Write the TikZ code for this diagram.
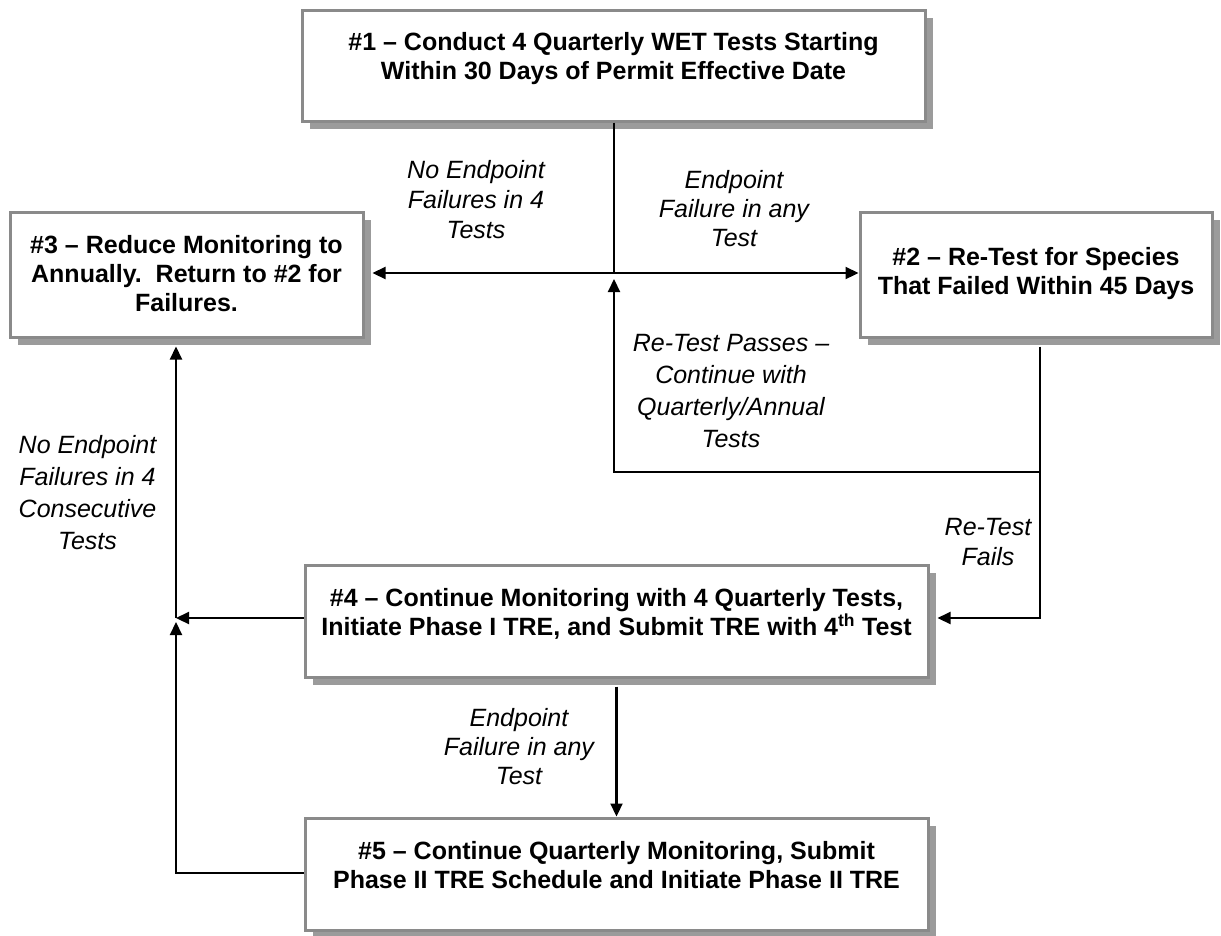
\documentclass[tikz,border=0pt]{standalone}
\usepackage{fontspec}
\setmainfont{Liberation Sans}
\usetikzlibrary{arrows.meta,shadows}
\definecolor{bordergray}{RGB}{138,138,138}
\definecolor{shadowgray}{RGB}{155,155,155}
\begin{document}
\begin{tikzpicture}[x=1pt,y=-1pt,
  box/.style={draw=bordergray, line width=3pt, fill=white, rectangle, inner sep=0pt,
    drop shadow={shadow xshift=8pt, shadow yshift=-8pt, fill=shadowgray, opacity=1}},
  boxtext/.style={align=center, font=\fontsize{25}{29}\selectfont\bfseries, inner sep=0pt},
  lbl/.style={align=center, font=\fontsize{25}{30}\selectfont\itshape, inner sep=0pt},
  conn/.style={line width=2.2pt, draw=black},
  arr/.style={conn, -{Triangle[length=13pt,width=12pt]}}]
\useasboundingbox (0,0) rectangle (1221,935);
\fill[white] (0,0) rectangle (1221,935);

% boxes
\node[box, minimum width=623pt, minimum height=111pt] (b1) at (613.5,65.5) {};
\node[box, minimum width=353pt, minimum height=125pt] (b3) at (186.5,274.5) {};
\node[box, minimum width=352pt, minimum height=125pt] (b2) at (1036,274.5) {};
\node[box, minimum width=623pt, minimum height=112pt] (b4) at (616.5,621) {};
\node[box, minimum width=623pt, minimum height=112pt] (b5) at (616.5,874) {};

% box texts
\node[boxtext] (t1) at (613.5,58.5) {\#1 -- Conduct 4 Quarterly WET Tests Starting\\Within 30 Days of Permit Effective Date};
\node[boxtext] (t3) at (186.5,274) {\#3 -- Reduce Monitoring to\\Annually.\ \ Return to \#2 for\\Failures.};
\node[boxtext] (t2) at (1036,274) {\#2 -- Re-Test for Species\\That Failed Within 45 Days};
\node[boxtext] (t4) at (616.5,613.5) {\#4 -- Continue Monitoring with 4 Quarterly Tests,\\Initiate Phase I TRE, and Submit TRE with 4\textsuperscript{th} Test};
\node[boxtext] (t5) at (616.5,865.5) {\#5 -- Continue Quarterly Monitoring, Submit\\Phase II TRE Schedule and Initiate Phase II TRE};

% junctions
\coordinate (j1) at (614,273);
\coordinate (j2) at (1040,472);
\coordinate (j3) at (1040,618);
\coordinate (j4) at (176,618);
\coordinate (j5) at (176,873);

% connectors
\draw[conn] (b1.south -| j1) -- (j1);
\draw[arr] (j1) -- ([xshift=8pt]b3.east |- j1);
\draw[arr] (j1) -- (b2.west |- j1);
\draw[conn] ([yshift=-8pt]b2.south -| j2) -- (j2);
\draw[arr] (j2) -- (j2 -| j1) -- ([yshift=-6pt]j1);
\draw[arr] (j2) -- (j3) -- ([xshift=8pt]b4.east |- j3);
\draw[arr] (b4.west |- j4) -- (j4);
\draw[arr] (j4) -- ([yshift=-8pt]b3.south -| j4);
\draw[arr] (b5.west |- j5) -- (j5) -- ([yshift=-4pt]j4);
\draw[arr] ([yshift=-8pt]b4.south) -- (b5.north);

% labels
\node[lbl] (l1) at (476,200) {No Endpoint\\Failures in 4\\Tests};
\node[lbl, font=\fontsize{25}{29}\selectfont\itshape] (l2) at (734,209) {Endpoint\\Failure in any\\Test};
\node[lbl, font=\fontsize{25}{32}\selectfont\itshape] (l3) at (731,391) {Re-Test Passes --\\Continue with\\Quarterly/Annual\\Tests};
\node[lbl] (l4) at (988,542.5) {Re-Test\\Fails};
\node[lbl, font=\fontsize{25}{32}\selectfont\itshape] (l5) at (87.5,493) {No Endpoint\\Failures in 4\\Consecutive\\Tests};
\node[lbl, font=\fontsize{25}{29}\selectfont\itshape] (l6) at (519,747) {Endpoint\\Failure in any\\Test};
\end{tikzpicture}
\end{document}
